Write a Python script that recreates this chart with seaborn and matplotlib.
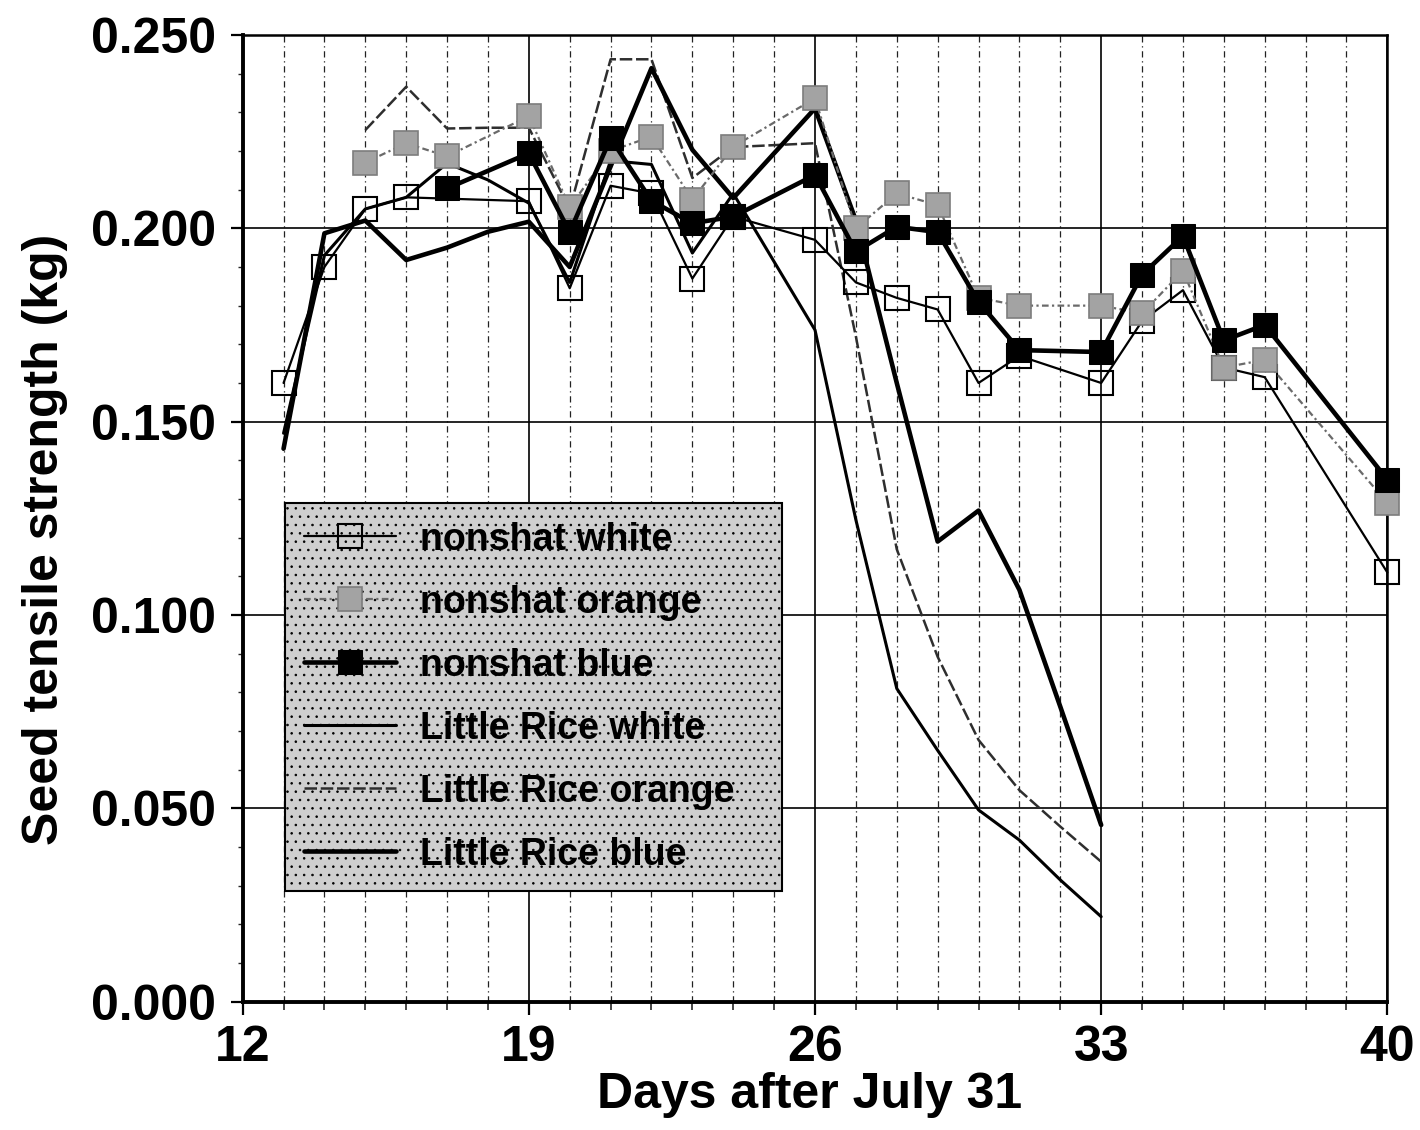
import matplotlib
matplotlib.use("Agg")
import matplotlib.pyplot as plt
from matplotlib.ticker import FixedLocator, MultipleLocator, FormatStrFormatter
import pandas as pd
import seaborn as sns

# ---- data: seed tensile strength (kg) by days after July 31 ----
ns_white_days = [13, 14, 15, 16, 19, 20, 21, 22, 23, 24, 26, 27, 28, 29, 30, 31,
                 33, 34, 35, 36, 37, 40]
ns_white = [0.160, 0.190, 0.205, 0.208, 0.207, 0.1845, 0.211, 0.209, 0.187, 0.203,
            0.197, 0.186, 0.182, 0.179, 0.160, 0.167, 0.160, 0.176, 0.184, 0.164,
            0.1615, 0.111]

ns_orange_days = [15, 16, 17, 19, 20, 21, 22, 23, 24, 26, 27, 28, 29, 30, 31,
                  33, 34, 35, 36, 37, 40]
ns_orange = [0.217, 0.222, 0.2186, 0.229, 0.2055, 0.220, 0.2237, 0.2074, 0.2211,
             0.2336, 0.200, 0.209, 0.206, 0.182, 0.180, 0.180, 0.178, 0.189,
             0.164, 0.166, 0.129]

ns_blue_days = [17, 19, 20, 21, 22, 23, 24, 26, 27, 28, 29, 30, 31, 33, 34, 35,
                36, 37, 40]
ns_blue = [0.2103, 0.2194, 0.199, 0.2233, 0.2071, 0.2013, 0.203, 0.2138, 0.194,
           0.2004, 0.199, 0.181, 0.1685, 0.168, 0.188, 0.198, 0.171, 0.175, 0.135]

lr_white_days = [13, 14, 15, 16, 17, 18, 19, 20, 21, 22, 23, 24, 26, 27, 28, 29,
                 30, 31, 32, 33]
lr_white = [0.147, 0.193, 0.205, 0.208, 0.2168, 0.2125, 0.2065, 0.186, 0.2175,
            0.2165, 0.1936, 0.209, 0.1737, 0.1246, 0.081, 0.065, 0.0496, 0.0418,
            0.0315, 0.022]

lr_orange_days = [15, 16, 17, 18, 19, 20, 21, 22, 23, 24, 26, 27, 28, 29, 30, 31,
                  32, 33]
lr_orange = [0.2254, 0.2366, 0.2258, 0.226, 0.226, 0.205, 0.2437, 0.2437, 0.213,
             0.221, 0.222, 0.172, 0.117, 0.0892, 0.0677, 0.0547, 0.0453, 0.0362]

lr_blue_days = [13, 14, 15, 16, 17, 18, 19, 20, 21, 22, 23, 24, 26, 27, 28, 29,
                30, 31, 32, 33]
lr_blue = [0.143, 0.1987, 0.202, 0.1918, 0.195, 0.1991, 0.2017, 0.190, 0.216,
           0.2414, 0.2203, 0.2078, 0.231, 0.202, 0.160, 0.119, 0.127, 0.1065,
           0.0763, 0.0457]

x_major = [12, 19, 26, 33, 40]

sns.set_theme(style="ticks")
plt.rcParams["font.family"] = ["Liberation Sans", "DejaVu Sans"]
plt.rcParams["font.weight"] = "bold"
plt.rcParams["axes.labelweight"] = "bold"
plt.rcParams["text.color"] = "black"
plt.rcParams["hatch.linewidth"] = 0.6

fig = plt.figure(figsize=(14.2, 11.3), dpi=100)
ax = fig.add_axes([0.1709, 0.1135, 0.8061, 0.8556])


def draw(days, vals, label, z, **kw):
    df = pd.DataFrame({"day": days, "strength": vals})
    sns.lineplot(data=df, x="day", y="strength", ax=ax, estimator=None,
                 sort=True, legend=False, label=label, zorder=z,
                 clip_on=False, **kw)


# nonshat series (with square markers)
draw(ns_white_days, ns_white, "nonshat white", 4,
     color="black", lw=1.6, marker="s", markersize=17.5,
     markerfacecolor="none", markeredgecolor="black", markeredgewidth=1.5)
draw(ns_orange_days, ns_orange, "nonshat orange", 5,
     color="#6a6a6a", lw=1.6, linestyle=(0, (3, 1.5, 1, 1.5)),
     marker="s", markersize=17.5, markerfacecolor="#a3a3a3",
     markeredgecolor="#7d7d7d", markeredgewidth=1.2)
draw(ns_blue_days, ns_blue, "nonshat blue", 6,
     color="black", lw=3.3, marker="s", markersize=17.5,
     markerfacecolor="black", markeredgecolor="black")

# Little Rice series (lines only)
draw(lr_white_days, lr_white, "Little Rice white", 3, color="black", lw=2.2)
draw(lr_orange_days, lr_orange, "Little Rice orange", 3,
     color="#2e2e2e", lw=1.8, linestyle=(0, (5, 1.5)))
draw(lr_blue_days, lr_blue, "Little Rice blue", 3, color="black", lw=3.3)

# axes, ticks and grid
ax.set_xlim(12, 40)
ax.set_ylim(0, 0.25)
ax.xaxis.set_major_locator(FixedLocator(x_major))
ax.xaxis.set_minor_locator(MultipleLocator(1))
ax.yaxis.set_major_locator(MultipleLocator(0.05))
ax.yaxis.set_minor_locator(MultipleLocator(0.01))
ax.yaxis.set_major_formatter(FormatStrFormatter("%.3f"))

ax.grid(which="major", axis="both", color="black", lw=1.2, zorder=1)
ax.grid(which="minor", axis="x", color="#222222", lw=0.9,
        linestyle=(0, (5, 3, 1, 3)), zorder=1)
ax.set_axisbelow(True)

ax.tick_params(axis="both", which="major", length=9, width=1.6,
               direction="out", labelsize=36, colors="black")
ax.tick_params(axis="x", which="major", pad=8)
ax.tick_params(axis="y", which="major", pad=10)
ax.tick_params(axis="x", which="minor", length=6, width=1.2, direction="out")
ax.tick_params(axis="y", which="minor", length=3.5, width=1.0, direction="out")
for lab in ax.get_xticklabels() + ax.get_yticklabels():
    lab.set_fontweight("bold")

for side in ["top", "right"]:
    ax.spines[side].set_visible(True)
    ax.spines[side].set_linewidth(1.8)
    ax.spines[side].set_color("black")
for side in ["left", "bottom"]:
    ax.spines[side].set_linewidth(2.8)
    ax.spines[side].set_color("black")

ax.set_xlabel("Days after July 31", fontsize=36, fontweight="bold", color="black")
ax.set_ylabel("Seed tensile strength (kg)", fontsize=36, fontweight="bold",
              color="black")
ax.xaxis.set_label_coords(0.4956, -0.073)
ax.yaxis.set_label_coords(-0.153, 0.478)

leg = ax.legend(loc="upper left", bbox_to_anchor=(0.037, 0.1135, 0.434, 0.4025),
                mode="expand", borderaxespad=0, handlelength=2.45,
                handletextpad=0.65, labelspacing=0.72, borderpad=0.5,
                fancybox=False, framealpha=1, numpoints=1, labelcolor="black",
                prop={"weight": "bold", "size": 27})
frame = leg.get_frame()
frame.set_facecolor("#cfcfcf")
frame.set_edgecolor("black")
frame.set_linewidth(1.5)
frame.set_hatch("..")
leg.set_zorder(10)

fig.savefig("out.png", dpi=100, facecolor="white")
